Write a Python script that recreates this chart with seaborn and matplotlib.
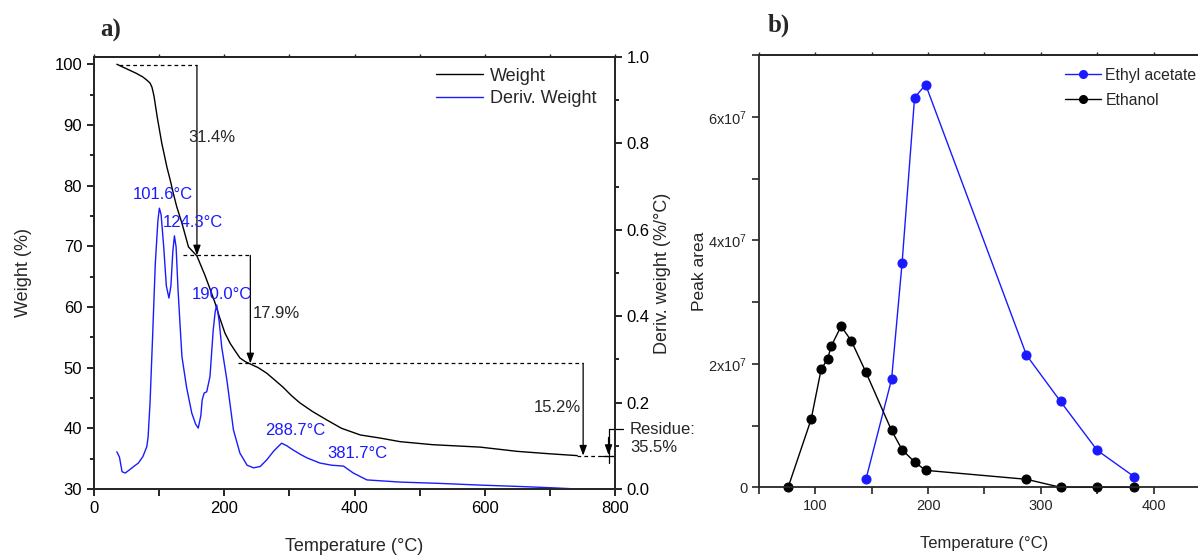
import numpy as np
import pandas as pd
import matplotlib
matplotlib.use("Agg")
import matplotlib.pyplot as plt
import seaborn as sns
from matplotlib import font_manager
from matplotlib.ticker import MultipleLocator, FuncFormatter, NullFormatter

# ---------------- data: panel a (TGA / DTG) ----------------
tga_temp = [35, 55, 65, 75, 82, 86, 89, 92, 97, 104, 112, 117, 122, 127, 135, 145, 158, 170, 178, 186, 193, 201, 209,
            217, 224, 232, 240, 252, 265, 277, 290, 303, 316, 335, 357, 380, 409, 439, 470, 520, 593, 650, 700, 742]
tga_weight = [100.0, 99.0, 98.5, 97.9, 97.3, 96.9, 96.2, 94.8, 91.3, 87.0, 83.0, 80.9, 78.6, 76.5, 73.8, 69.9, 68.4, 65.3,
              63.0, 60.6, 58.2, 55.7, 54.0, 52.7, 51.6, 51.0, 50.6, 50.0, 49.1, 48.0, 46.8, 45.4, 44.2, 42.8, 41.4, 40.0,
              38.9, 38.4, 37.8, 37.3, 36.9, 36.2, 35.8, 35.5]

dtg_temp = [35, 39, 43, 48, 55, 60, 68, 75, 81, 83, 86, 90, 94, 98, 100.3, 103, 107, 111, 115, 118, 121, 123.4, 126,
            129, 133, 135, 142, 150, 156, 160, 164, 166, 169, 173, 178, 183, 186, 188.4, 192, 196, 204, 214, 224, 235,
            245, 255, 265, 276, 288, 296, 306, 317, 327, 347, 365, 383, 398, 419, 470, 530, 593, 650, 700, 742]
dtg_value = [0.086, 0.074, 0.040, 0.037, 0.045, 0.051, 0.060, 0.075, 0.098, 0.120, 0.200, 0.356, 0.520, 0.620, 0.650,
             0.635, 0.560, 0.470, 0.442, 0.470, 0.550, 0.586, 0.560, 0.460, 0.356, 0.306, 0.236, 0.176, 0.150, 0.141,
             0.170, 0.206, 0.222, 0.225, 0.260, 0.368, 0.410, 0.426, 0.390, 0.329, 0.252, 0.137, 0.083, 0.055, 0.049,
             0.052, 0.067, 0.088, 0.106, 0.100, 0.090, 0.080, 0.072, 0.060, 0.055, 0.053, 0.037, 0.021, 0.016, 0.013,
             0.009, 0.006, 0.003, 0.000]

peak_labels = ["101.6°C", "124.3°C", "190.0°C", "288.7°C", "381.7°C"]
peak_label_pos = [(106, 78.6), (152, 74.0), (197, 62.0), (309, 39.7), (405, 35.9)]

loss_labels = ["31.4%", "17.9%", "15.2%"]
step_temp = [158, 240, 751]             # arrow temperatures
step_levels = [99.8, 68.5, 50.7, 35.5]  # weight plateaus

# ---------------- data: panel b (peak areas) ----------------
eth_temp = [75.8, 96.2, 105.1, 110.9, 113.9, 122.8, 131.9, 144.9, 167.6, 176.9, 188.0, 197.8, 287.3, 317.5, 350.0, 383.0]
eth_area = [0.0, 1.10e7, 1.91e7, 2.08e7, 2.28e7, 2.61e7, 2.37e7, 1.86e7, 0.92e7, 0.61e7, 0.41e7, 0.275e7, 0.13e7, 0.0, 0.0, 0.0]
ea_temp = [144.9, 167.6, 176.9, 188.0, 197.8, 287.3, 317.5, 350.0, 383.0]
ea_area = [0.134e7, 1.75e7, 3.63e7, 6.31e7, 6.52e7, 2.14e7, 1.39e7, 0.60e7, 0.17e7]

# ---------------- style ----------------
sns.set_style("ticks")
plt.rcParams["font.family"] = ["Liberation Sans", "DejaVu Sans"]
plt.rcParams["mathtext.default"] = "regular"
plt.rcParams["axes.linewidth"] = 1.3

installed = {f.name for f in font_manager.fontManager.ttflist}
NARROW = "Liberation Sans Narrow" if "Liberation Sans Narrow" in installed else "Liberation Sans"
narrow_size = 12 if NARROW == "Liberation Sans Narrow" else 10.5

BLUE = "#1a1aff"
fig = plt.figure(figsize=(11.98, 5.57), dpi=100)

# ===== panel a =====
ax = fig.add_axes([0.0785, 0.1221, 0.4349, 0.7756])
ax2 = ax.twinx()
df_tga = pd.DataFrame({"T": tga_temp, "W": tga_weight})
df_dtg = pd.DataFrame({"T": dtg_temp, "D": dtg_value})
sns.lineplot(data=df_tga, x="T", y="W", ax=ax, color="black", lw=1.0, sort=False, estimator=None)
sns.lineplot(data=df_dtg, x="T", y="D", ax=ax2, color=BLUE, lw=1.0, sort=False, estimator=None)

ax.set_xlim(0, 800)
ax.set_ylim(30, 101.2)
ax2.set_ylim(0, 1.0)
ax.xaxis.set_major_locator(MultipleLocator(200))
ax.xaxis.set_minor_locator(MultipleLocator(100))
ax.yaxis.set_major_locator(MultipleLocator(10))
ax.yaxis.set_minor_locator(MultipleLocator(5))
ax2.yaxis.set_major_locator(MultipleLocator(0.2))
ax2.yaxis.set_minor_locator(MultipleLocator(0.1))
ax2.yaxis.set_major_formatter(FuncFormatter(lambda v, p: f"{v:.1f}"))
for a in (ax, ax2):
    a.tick_params(which="both", direction="out", width=1.2, labelsize=12, colors="black")
    a.tick_params(which="major", length=5)
    a.tick_params(which="minor", length=3)
ax.tick_params(axis="x", which="both", length=5, top=False)
topa = ax.secondary_xaxis("top")
topa.xaxis.set_major_locator(MultipleLocator(100))
topa.xaxis.set_major_formatter(NullFormatter())
topa.tick_params(length=2, width=1.0, direction="out")
ax.set_xlabel("Temperature (°C)", fontsize=13)
ax.set_ylabel("Weight (%)", fontsize=13)
ax2.set_ylabel("Deriv. weight (%/°C)", fontsize=13)
ax.xaxis.set_label_coords(0.5, -0.113)
ax.yaxis.set_label_coords(-0.119, 0.5)
ax2.yaxis.set_label_coords(1.0755, 0.5)

# step annotations
dash = dict(color="black", lw=0.9, ls=(0, (3, 2.5)))
ax.plot([38, step_temp[0]], [step_levels[0], step_levels[0]], **dash)
ax.plot([137, step_temp[1]], [step_levels[1], step_levels[1]], **dash)
ax.plot([221, step_temp[2]], [step_levels[2], step_levels[2]], **dash)
ax.plot([742, 797], [step_levels[3], step_levels[3]], **dash)
arrow_kw = dict(arrowstyle="-|>,head_length=0.6,head_width=0.22", color="black", lw=0.9, shrinkA=0, shrinkB=0)
for i in range(3):
    ax.annotate("", xy=(step_temp[i], step_levels[i + 1]), xytext=(step_temp[i], step_levels[i]),
                arrowprops=arrow_kw)
ax.text(144, 87.9, loss_labels[0], fontsize=12, ha="left", va="center")
ax.text(244, 59.0, loss_labels[1], fontsize=12, ha="left", va="center")
ax.text(747, 43.5, loss_labels[2], fontsize=12, ha="right", va="center")

# residue marker
ax.plot([790, 812], [39.9, 39.9], color="black", lw=0.9, clip_on=False)
ax.plot([790, 790], [39.9, 34.3], color="black", lw=0.9, clip_on=False)
ax.annotate("", xy=(790, 35.6), xytext=(790, 38.5), arrowprops=arrow_kw, annotation_clip=False)
ax.plot([780, 800], [35.5, 35.5], color="black", lw=0.9, clip_on=False)
ax.text(823, 38.3, "Residue:\n35.5%", fontsize=12, ha="left", va="center", linespacing=1.3, clip_on=False)

for lab, (tx, ty) in zip(peak_labels, peak_label_pos):
    ax.text(tx, ty, lab, color=BLUE, fontsize=12, ha="center", va="center")

h1 = plt.Line2D([], [], color="black", lw=1.0)
h2 = plt.Line2D([], [], color=BLUE, lw=1.0)
ax.legend([h1, h2], ["Weight", "Deriv. Weight"], loc="upper right", frameon=False, fontsize=13,
          handlelength=2.6, handletextpad=0.4, borderaxespad=0.2, labelspacing=0.3,
          bbox_to_anchor=(0.985, 1.0))
fig.text(0.084, 0.945, "a)", fontsize=18, fontweight="bold", family="Liberation Serif", va="center")

# ===== panel b =====
bx = fig.add_axes([0.6336, 0.1251, 0.3763, 0.7762])
df_ea = pd.DataFrame({"T": ea_temp, "A": ea_area})
df_et = pd.DataFrame({"T": eth_temp, "A": eth_area})
sns.lineplot(data=df_ea, x="T", y="A", ax=bx, color=BLUE, lw=1.0, marker="o", markersize=6.5,
             markeredgecolor=BLUE, sort=False, estimator=None, clip_on=False)
sns.lineplot(data=df_et, x="T", y="A", ax=bx, color="black", lw=1.0, marker="o", markersize=6.5,
             markeredgecolor="black", sort=False, estimator=None, clip_on=False)
bx.set_xlim(50, 450)
bx.set_ylim(0, 7.0e7)
bx.xaxis.set_major_locator(MultipleLocator(50))
bx.yaxis.set_major_locator(MultipleLocator(1e7))
bx.xaxis.set_major_formatter(FuncFormatter(lambda v, p: f"{int(round(v))}" if round(v) % 100 == 0 else ""))


def yfmt(v, p):
    n = int(round(v / 1e7))
    if n == 0:
        return "0"
    if n % 2:
        return ""
    return f"{n}x10$^{{7}}$"


bx.yaxis.set_major_formatter(FuncFormatter(yfmt))
bx.tick_params(which="both", direction="out", width=1.2, length=5, labelsize=narrow_size, top=False)
topb = bx.secondary_xaxis("top")
topb.xaxis.set_major_locator(MultipleLocator(50))
topb.xaxis.set_major_formatter(NullFormatter())
topb.tick_params(length=2, width=1.0, direction="out")
for lbl in bx.get_xticklabels() + bx.get_yticklabels():
    lbl.set_family([NARROW, "DejaVu Sans"])
bx.set_xlabel("Temperature (°C)", fontsize=12, family=[NARROW, "DejaVu Sans"])
bx.set_ylabel("Peak area", fontsize=12.5)
bx.xaxis.set_label_coords(0.5, -0.113)
bx.yaxis.set_label_coords(-0.115, 0.5)
g1 = plt.Line2D([], [], color=BLUE, lw=1.0, marker="o", markersize=5.5)
g2 = plt.Line2D([], [], color="black", lw=1.0, marker="o", markersize=5.5)
bx.legend([g1, g2], ["Ethyl acetate", "Ethanol"], loc="upper left", frameon=False,
          prop={"family": [NARROW, "DejaVu Sans"], "size": 11.3},
          handlelength=2.3, handletextpad=0.3, labelspacing=0.65, borderaxespad=0.0,
          bbox_to_anchor=(0.664, 0.985))
fig.text(0.641, 0.955, "b)", fontsize=18, fontweight="bold", family="Liberation Serif", va="center")

fig.savefig("out.png", dpi=100)
